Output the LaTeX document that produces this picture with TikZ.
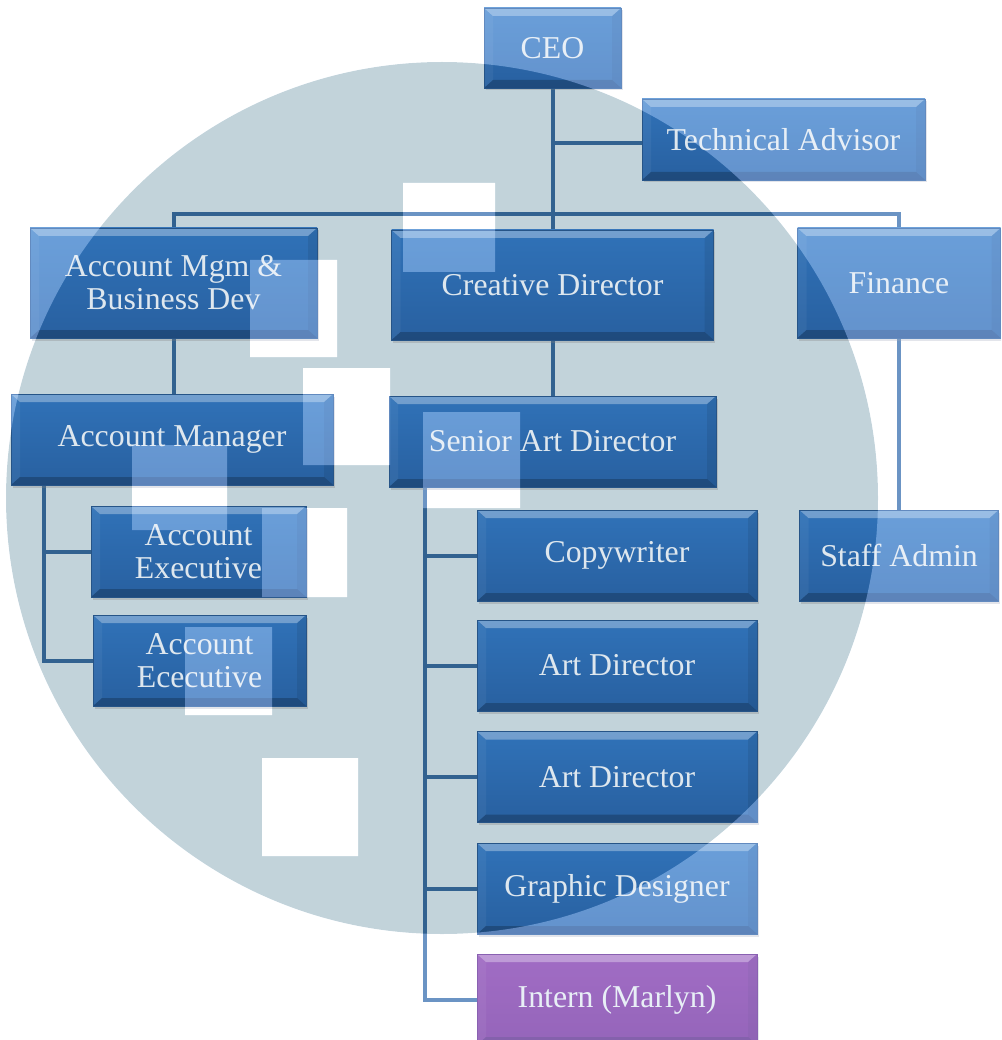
\documentclass[tikz,border=0pt]{standalone}
\usepackage{fontspec}
\setmainfont{Liberation Serif}
\usetikzlibrary{calc,shadows}
\definecolor{bgc}{RGB}{194,211,218}
\definecolor{conncol}{RGB}{50,98,144}
\definecolor{bodytop}{RGB}{48,114,184}
\definecolor{bodybot}{RGB}{40,96,160}
\definecolor{boxline}{RGB}{38,84,135}
\definecolor{txt}{RGB}{222,231,238}
\definecolor{scr}{RGB}{70,80,118}
\definecolor{purtop}{RGB}{124,40,144}
\definecolor{purbot}{RGB}{108,30,126}
\definecolor{purline}{RGB}{92,24,108}
\pgfdeclarelayer{backlayer}
\pgfdeclarelayer{linelayer}
\pgfdeclarelayer{frontlayer}
\pgfsetlayers{backlayer,linelayer,main,frontlayer}
\newcommand\orgbevel[2]{%
  \fill[top color=#1, bottom color=#2] (path picture bounding box.south west) rectangle (path picture bounding box.north east);
  \path (path picture bounding box.north west) coordinate (bNW)
        (path picture bounding box.north east) coordinate (bNE)
        (path picture bounding box.south west) coordinate (bSW)
        (path picture bounding box.south east) coordinate (bSE);
  \fill[white, opacity=0.32] (bNW) -- (bNE) -- ($(bNE)+(-9,-8)$) -- ($(bNW)+(9,-8)$) -- cycle;
  \fill[white, opacity=0.05] (bNW) -- ($(bNW)+(9,-8)$) -- ($(bSW)+(9,8)$) -- (bSW) -- cycle;
  \fill[black, opacity=0.08] (bNE) -- ($(bNE)+(-9,-8)$) -- ($(bSE)+(-9,8)$) -- (bSE) -- cycle;
  \fill[black, opacity=0.22] (bSW) -- ($(bSW)+(9,8)$) -- ($(bSE)+(-9,8)$) -- (bSE) -- cycle;
}
\begin{document}
\begin{tikzpicture}[x=1pt,y=1pt,
  conn/.style={draw=conncol, line width=4pt},
  orgbox/.style={rectangle, draw=boxline, line width=0.8pt, inner sep=0pt, align=center, text=txt,
     font=\fontsize{31.8}{33}\selectfont,
     drop shadow={shadow xshift=1.5pt, shadow yshift=-2.5pt, opacity=0.3},
     path picture={\orgbevel{bodytop}{bodybot}}},
  purbox/.style={orgbox, draw=purline, path picture={\orgbevel{purtop}{purbot}}},
  sz/.style 2 args={minimum width=#1, minimum height=#2}
]
\clip (0,0) rectangle (1001,-1040);
\begin{pgfonlayer}{backlayer}
  \fill[white] (-10,10) rectangle (1011,-1050);
  \fill[bgc] (442,-498) circle[radius=436];
  \fill[white] (403,-183) rectangle (495,-272)
               (250,-260) rectangle (337,-357)
               (303,-368) rectangle (390,-465)
               (132,-445) rectangle (227,-530)
               (262,-508) rectangle (347,-597)
               (185,-627) rectangle (272,-715)
               (262,-758) rectangle (358,-856)
               (423,-412) rectangle (520,-508);
\end{pgfonlayer}

% nodes
\node[orgbox, sz={137}{80}]  (ceo) at (552.5,-48)   {CEO};
\node[orgbox, sz={283}{81}]  (ta)  at (783.5,-139.5) {Technical Advisor};
\node[orgbox, sz={287}{110}] (amb) at (173.5,-283)  {Account Mgm \&\\Business Dev};
\node[orgbox, sz={322}{110}] (cd)  at (552.5,-285)  {Creative Director};
\node[orgbox, sz={203}{110}] (fin) at (899,-283)    {Finance};
\node[orgbox, sz={322}{91}]  (am)  at (172,-439.5)  {Account Manager};
\node[orgbox, sz={327}{91}]  (sad) at (552.5,-441.5) {Senior Art Director};
\node[orgbox, sz={215}{91}]  (ae1) at (198.5,-551.5) {Account\\Executive};
\node[orgbox, sz={213}{91}]  (ae2) at (199.5,-660.5) {Account\\Ececutive};
\node[orgbox, sz={280}{91}]  (cw)  at (617,-555.5)  {Copywriter};
\node[orgbox, sz={280}{91}]  (ad1) at (617,-665.5)  {Art Director};
\node[orgbox, sz={280}{91}]  (ad2) at (617,-777)    {Art Director};
\node[orgbox, sz={280}{91}]  (gd)  at (617,-888.5)  {Graphic Designer};
\node[purbox, sz={280}{91}]  (int) at (617,-999.5)  {Intern (Marlyn)};
\node[orgbox, sz={199}{91}]  (sa)  at (899,-555.5)  {Staff Admin};

% connectors
\begin{pgfonlayer}{linelayer}
  \coordinate (bar) at (552.5,-214);
  \coordinate (tajoin) at ([yshift=-4pt]ta.west);
  \draw[conn] (ceo.south) -- (cd.north);
  \draw[conn] (ceo.south |- tajoin) -- (tajoin);
  \draw[conn] (amb.north) |- (bar) -| (fin.north);
  \draw[conn] (amb.south) -- (amb.south |- am.north);
  \draw[conn] (cd.south) -- (sad.north);
  \draw[conn] (fin.south) -- (sa.north);
  \coordinate (amtrunk) at ([xshift=33pt]am.south west);
  \draw[conn] (amtrunk) |- (ae1.west);
  \draw[conn] (amtrunk) |- (ae2.west);
  \coordinate (sadtrunk) at ([xshift=36pt]sad.south west);
  \draw[conn] (sadtrunk) |- (cw.west);
  \draw[conn] (sadtrunk) |- (ad1.west);
  \draw[conn] (sadtrunk) |- (ad2.west);
  \draw[conn] (sadtrunk) |- (gd.west);
  \draw[conn] (sadtrunk) |- (int.west);
\end{pgfonlayer}

% lightening of everything outside the grey disc
\begin{pgfonlayer}{frontlayer}
  \begin{scope}[blend mode=screen]
  \fill[scr, even odd rule] (-10,10) rectangle (1011,-1050)
       (442,-498) circle[radius=436]
       (403,-183) rectangle (495,-272)
       (250,-260) rectangle (337,-357)
       (303,-368) rectangle (390,-465)
       (132,-445) rectangle (227,-530)
       (262,-508) rectangle (347,-597)
       (185,-627) rectangle (272,-715)
       (262,-758) rectangle (358,-856)
       (423,-412) rectangle (520,-508);
  \end{scope}
\end{pgfonlayer}
\end{tikzpicture}
\end{document}
